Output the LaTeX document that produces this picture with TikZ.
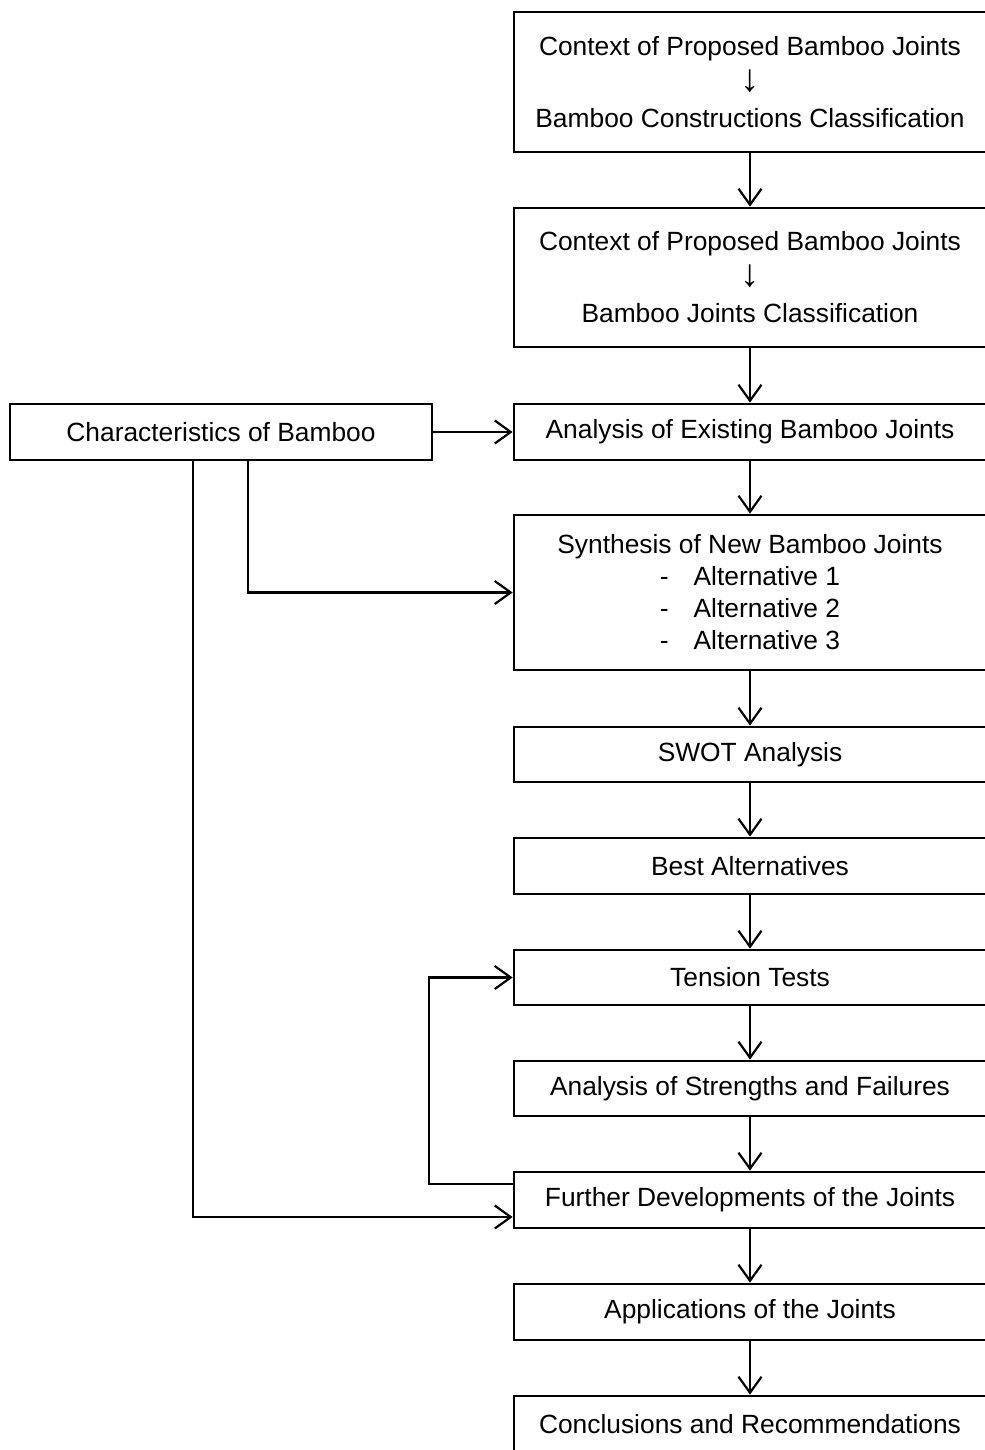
\documentclass[tikz,border=0pt]{standalone}
\usepackage{fontspec}
\setmainfont{Liberation Sans}
\usetikzlibrary{arrows.meta}

\begin{document}
\begin{tikzpicture}[x=0.02cm, y=-0.02cm, >={Straight Barb[length=3.2mm,width=4.6mm]},
    box/.style={draw, line width=1.6pt, minimum width=9.44cm, inner sep=0pt,
        align=center, font=\fontsize{15}{20.5}\selectfont},
    link/.style={->, line width=1.25pt}]
    \useasboundingbox (0,0) rectangle (984,1450);

    \node[box, minimum height=2.8cm] (cbc) at (750,82)
        {Context of Proposed Bamboo Joints\\ {\fontsize{22}{20}\selectfont↓}\\ Bamboo Constructions Classification};
    \node[box, minimum height=2.78cm] (cjc) at (750,277.5)
        {Context of Proposed Bamboo Joints\\ {\fontsize{22}{20}\selectfont↓}\\ Bamboo Joints Classification};
    \node[box, minimum height=1.12cm] (aeb) at (750,432) {Analysis of Existing Bamboo Joints};
    \node[box, minimum height=3.1cm, font=\fontsize{15}{18.2}\selectfont] (syn) at (750,592.5)
        {Synthesis of New Bamboo Joints\\ -\hspace{0.5cm}Alternative 1\\ -\hspace{0.5cm}Alternative 2\\ -\hspace{0.5cm}Alternative 3};
    \node[box, minimum height=1.1cm] (swot) at (750,754.5) {SWOT Analysis};
    \node[box, minimum height=1.12cm] (best) at (750,866) {Best Alternatives};
    \node[box, minimum height=1.1cm] (ten) at (750,977.5) {Tension Tests};
    \node[box, minimum height=1.1cm] (asf) at (750,1088.5) {Analysis of Strengths and Failures};
    \node[box, minimum height=1.12cm] (fur) at (750,1200) {Further Developments of the Joints};
    \node[box, minimum height=1.12cm] (app) at (750,1312) {Applications of the Joints};
    \node[box, minimum height=1.12cm] (con) at (750,1424) {Conclusions and Recommendations};

    \node[box, minimum width=8.44cm, minimum height=1.12cm] (chr) at (221,432) {Characteristics of Bamboo};

    % main column
    \foreach \a/\b in {cbc/cjc, cjc/aeb, aeb/syn, syn/swot, swot/best, best/ten, ten/asf, asf/fur, fur/app, app/con}
        \draw[link] (\a) -- (\b);

    % bamboo characteristics feed in
    \draw[link] (chr) -- (aeb);
    \draw[link] ([xshift=0.54cm]chr.south) |- (syn.west);
    \draw[link] ([xshift=-0.56cm]chr.south) |- ([yshift=-0.34cm]fur.west);

    % feedback loop
    \draw[link] ([yshift=0.32cm]fur.west) -- ++(-84,0) |- (ten.west);
\end{tikzpicture}
\end{document}
